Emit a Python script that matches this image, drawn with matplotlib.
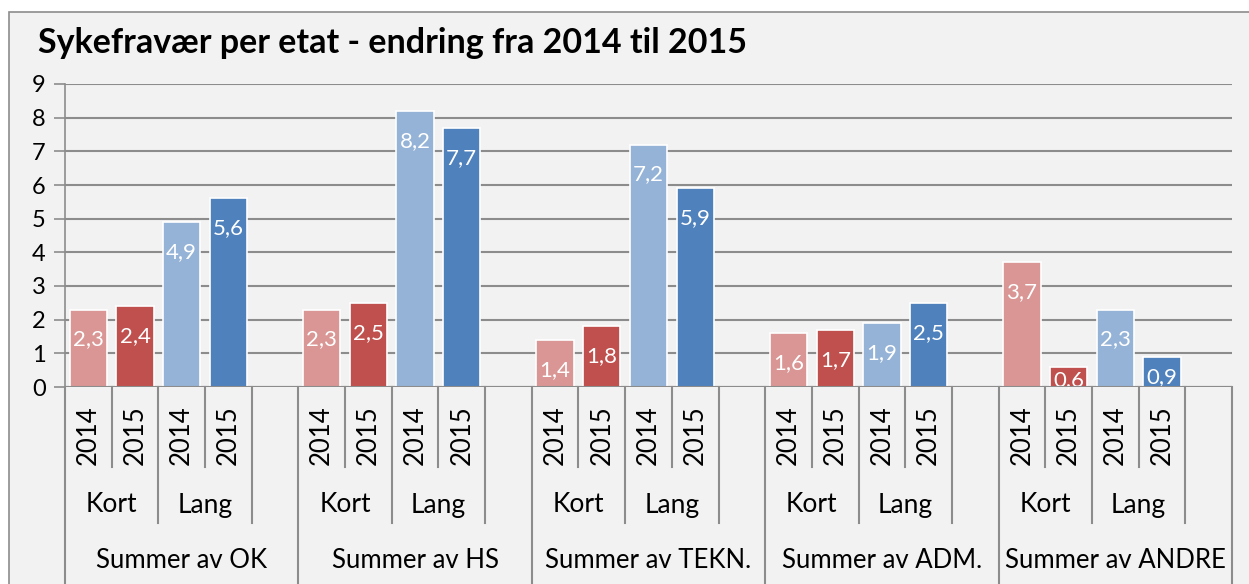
import matplotlib.pyplot as plt
import matplotlib.patches as mpatches
import matplotlib.transforms as mtransforms
import numpy as np

plt.rcParams['font.family'] = ['Lato', 'DejaVu Sans']

# Data
groups = ['Summer av OK', 'Summer av HS', 'Summer av TEKN.', 'Summer av ADM.', 'Summer av ANDRE']
types = ['Kort', 'Lang']
years = ['2014', '2015']
kort_2014 = [2.3, 2.3, 1.4, 1.6, 3.7]
kort_2015 = [2.4, 2.5, 1.8, 1.7, 0.6]
lang_2014 = [4.9, 8.2, 7.2, 1.9, 2.3]
lang_2015 = [5.6, 7.7, 5.9, 2.5, 0.9]

series = [kort_2014, kort_2015, lang_2014, lang_2015]
colors = ['#d99694', '#c0504d', '#95b3d7', '#4f81bd']
grid_c = '#8c8c8c'
bg = '#f2f2f2'

W, H = 1249, 584
fig = plt.figure(figsize=(W / 100, H / 100), dpi=100)
fig.patch.set_facecolor('white')
# chart area background with border
fig.patches.append(mpatches.Rectangle((9 / W, -0.1), 1.0, 1.1 - 12 / H, transform=fig.transFigure,
                                      facecolor=bg, edgecolor='#8c8c8c', linewidth=1.2, zorder=-10))

x0, x1, y0, y9 = 65, 1232, 387, 84
ax = fig.add_axes([x0 / W, 1 - y0 / H, (x1 - x0) / W, (y0 - y9) / H])
ax.set_facecolor(bg)
ax.set_xlim(-0.5, 24.5)
ax.set_ylim(0, 9)

for g in range(len(groups)):
    for i, s in enumerate(series):
        xp = g * 5 + i
        v = s[g]
        ax.bar(xp, v, width=0.8, color=colors[i], edgecolor='white', linewidth=1.2, zorder=3)
        ty = max(v - 0.89, v * 0.33)
        ax.text(xp, ty, ('%.1f' % v).replace('.', ','), color='white', fontsize=16,
                ha='center', va='center', zorder=4)

ax.set_yticks(range(10))
ax.set_yticklabels([str(i) for i in range(10)], fontsize=17)
ax.yaxis.grid(True, color=grid_c, linewidth=1.5)
ax.set_axisbelow(True)
ax.tick_params(axis='y', length=8, width=1.2, color=grid_c, pad=6)
ax.set_xticks([])
for sp in ['top', 'right', 'bottom']:
    ax.spines[sp].set_visible(False)
ax.spines['left'].set_color(grid_c)
ax.spines['left'].set_linewidth(1.2)
ax.axhline(0, color=grid_c, linewidth=1.5, zorder=5)

# hierarchical category labels below the axis
trans = mtransforms.blended_transform_factory(ax.transData, ax.transAxes)
ph = (y0 - y9)
yr_bot = -(467 - y0) / ph
ty_bot = -(523 - y0) / ph
gr_bot = -(590 - y0) / ph

def vline(x, ybot):
    ax.plot([x, x], [0, ybot], color=grid_c, linewidth=1.5, transform=trans, clip_on=False)

for g in range(len(groups)):
    base = g * 5 - 0.5
    vline(base, gr_bot)
    vline(base + 1, yr_bot)
    vline(base + 2, ty_bot)
    vline(base + 3, yr_bot)
    vline(base + 4, ty_bot)
    for i in range(4):
        ax.text(g * 5 + i, -(435 - y0) / ph, years[i % 2], rotation=90, fontsize=18.5,
                ha='center', va='center', transform=trans)
    for t in range(2):
        ax.text(g * 5 + 2 * t + 0.5, -(505 - y0) / ph, types[t], fontsize=19,
                ha='center', va='center', transform=trans)
    ax.text(g * 5 + 2, -(561 - y0) / ph, groups[g], fontsize=18.5,
            ha='center', va='center', transform=trans)
vline(24.5, gr_bot)

fig.text(38 / W, 1 - 43 / H, 'Sykefravær per etat - endring fra 2014 til 2015',
         fontsize=24.5, fontweight='bold', ha='left', va='center')

fig.savefig('out.png', dpi=100, facecolor=fig.get_facecolor())
